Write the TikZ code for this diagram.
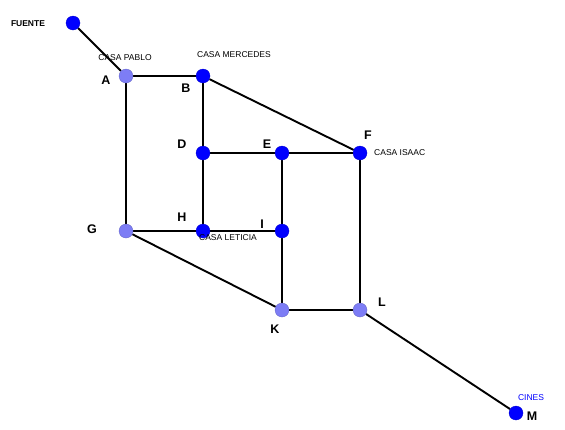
\documentclass[tikz,border=0pt]{standalone}
\usepackage{fontspec}
\setmainfont{Liberation Sans}
\usepackage{tikz}
\usetikzlibrary{backgrounds}
\definecolor{dotblue}{RGB}{0,0,255}
\definecolor{dotlight}{RGB}{125,125,245}
\tikzset{
  house/.style={circle, fill=dotblue, draw=dotblue!80!black, line width=0.3pt, minimum size=14pt, inner sep=0pt},
  corner/.style={circle, fill=dotlight, draw=dotlight!80!black, line width=0.3pt, minimum size=14pt, inner sep=0pt},
  letter/.style={font=\fontsize{12.5}{13}\selectfont\bfseries, inner sep=0pt},
  place/.style={font=\fontsize{8.5}{9}\selectfont, inner sep=0pt},
  pipe/.style={line width=1.9pt, black}
}
\begin{document}
\begin{tikzpicture}[x=1pt,y=-1pt]
  \useasboundingbox (0,0) rectangle (565,429);

  \node[house] (fuente) at (73,23) {};
  \node[corner] (a) at (126,76) {};
  \node[house] (b) at (203,76) {};
  \node[house] (d) at (203,153) {};
  \node[house] (e) at (282,153) {};
  \node[house] (f) at (360,153) {};
  \node[corner] (g) at (126,231) {};
  \node[house] (h) at (203,231) {};
  \node[house] (i) at (282,231) {};
  \node[corner] (k) at (282,310) {};
  \node[corner] (l) at (360,310) {};
  \node[house] (m) at (516,413) {};

  \node[place, font=\fontsize{8.5}{9}\selectfont\bfseries] (tfuente) at (28,24) {FUENTE};
  \node[place] (tpablo) at (125,58) {CASA PABLO};
  \node[place] (tmercedes) at (234,55) {CASA MERCEDES};
  \node[place, anchor=west] (tisaac) at (374,153) {CASA ISAAC};
  \node[place] (tleticia) at (228,238) {CASA LETICIA};
  \node[place, text=dotblue] (tcines) at (531,398) {CINES};

  \node[letter] (la) at (106,80) {A};
  \node[letter] (lb) at (186,88) {B};
  \node[letter] (ld) at (182,144) {D};
  \node[letter] (le) at (267,144) {E};
  \node[letter] (lf) at (368,135) {F};
  \node[letter] (lg) at (92,229) {G};
  \node[letter] (lh) at (182,217) {H};
  \node[letter] (li) at (262,224) {I};
  \node[letter] (lk) at (275,329) {K};
  \node[letter] (ll) at (382,302) {L};
  \node[letter] (lm) at (532,416) {M};

  \begin{scope}[on background layer]
    \draw[pipe] (fuente) -- (a);
    \draw[pipe] (a) -- (b); \draw[pipe] (a) -- (g);
    \draw[pipe] (b) -- (d); \draw[pipe] (b) -- (f);
    \draw[pipe] (d) -- (e); \draw[pipe] (e) -- (f);
    \draw[pipe] (d) -- (h); \draw[pipe] (e) -- (i);
    \draw[pipe] (g) -- (h); \draw[pipe] (h) -- (i);
    \draw[pipe] (g) -- (k); \draw[pipe] (i) -- (k);
    \draw[pipe] (k) -- (l); \draw[pipe] (f) -- (l);
    \draw[pipe] (l) -- (m);
  \end{scope}
\end{tikzpicture}
\end{document}
